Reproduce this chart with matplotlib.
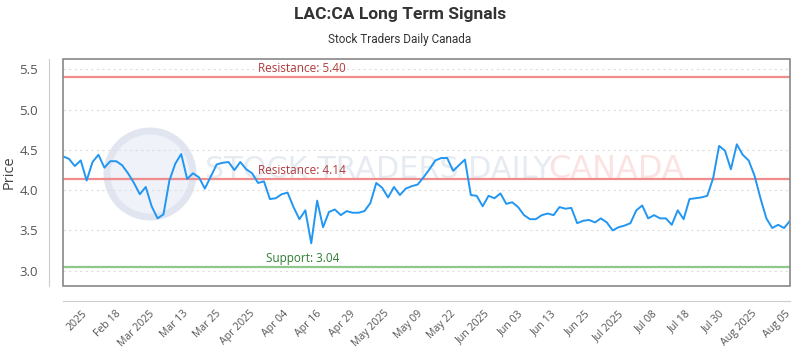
import numpy as np
import matplotlib
matplotlib.use("Agg")
import matplotlib.pyplot as plt
from matplotlib.patches import Rectangle, Ellipse

# closing prices, one per trading day
prices = [4.42, 4.39, 4.30, 4.37, 4.12, 4.35, 4.44, 4.28, 4.36, 4.36,
          4.31, 4.21, 4.09, 3.95, 4.04, 3.80, 3.65, 3.70, 4.12, 4.33,
          4.45, 4.14, 4.21, 4.16, 4.02, 4.17, 4.32, 4.34, 4.35, 4.25,
          4.35, 4.26, 4.21, 4.09, 4.11, 3.89, 3.90, 3.95, 3.97, 3.79,
          3.64, 3.75, 3.34, 3.87, 3.54, 3.73, 3.76, 3.69, 3.74, 3.72,
          3.72, 3.74, 3.84, 4.09, 4.03, 3.91, 4.04, 3.94, 4.02, 4.05,
          4.07, 4.16, 4.26, 4.37, 4.40, 4.40, 4.24, 4.31, 4.38, 3.94,
          3.93, 3.80, 3.93, 3.90, 3.96, 3.83, 3.85, 3.79, 3.69, 3.64,
          3.64, 3.69, 3.71, 3.69, 3.79, 3.77, 3.78, 3.59, 3.62, 3.63,
          3.60, 3.65, 3.60, 3.50, 3.54, 3.56, 3.59, 3.75, 3.81, 3.65,
          3.69, 3.65, 3.65, 3.57, 3.75, 3.64, 3.89, 3.90, 3.91, 3.93,
          4.15, 4.55, 4.49, 4.26, 4.57, 4.44, 4.37, 4.18, 3.90, 3.65,
          3.53, 3.57, 3.53, 3.62]

tick_labels = ["2025", "Feb 18", "Mar 2025", "Mar 13", "Mar 25", "Apr 2025",
               "Apr 04", "Apr 16", "Apr 29", "May 2025", "May 09", "May 22",
               "Jun 2025", "Jun 03", "Jun 13", "Jun 25", "Jul 2025", "Jul 08",
               "Jul 18", "Jul 30", "Aug 2025", "Aug 05"]

resistance_hi = 5.40
resistance_lo = 4.14
support = 3.04

x = np.arange(len(prices))
n = len(prices) - 1

fig = plt.figure(figsize=(8, 3.5), dpi=100)
ax = fig.add_axes([0.07875, 0.1829, 0.90875, 0.6486])

# spines first: moving them resets tick label styling
for s in ["top", "right"]:
    ax.spines[s].set_visible(False)
ax.spines["left"].set_position(("outward", 10))
ax.spines["bottom"].set_position(("outward", 11))
ax.spines["left"].set_color("#cccccc")
ax.spines["bottom"].set_color("#cccccc")

ax.set_xlim(0, n)
ax.set_ylim(2.81, 5.63)

# watermark, behind the (transparent) axes
fig.patches.append(Ellipse((150 / 800, 176 / 350), 86 / 800, 86 / 350,
                           transform=fig.transFigure, facecolor="#eff2f8",
                           edgecolor="#e0e5f0", lw=5, zorder=-2))
fig.text(205 / 800, 181 / 350, "STOCK TRADERS DAILY", fontsize=21.8, color="#e6ebf2",
         va="center", ha="left", zorder=-1)
fig.text(548 / 800, 181 / 350, "CANADA", fontsize=23, color="#fce3e3",
         va="center", ha="left", zorder=-1)
ax.patch.set_alpha(0)

ax.set_yticks([3.0, 3.5, 4.0, 4.5, 5.0, 5.5])
ax.yaxis.grid(True, linestyle=(0, (2, 3)), color="#dddddd", lw=0.8)
ax.set_axisbelow(True)

ax.axhline(resistance_hi, color="#f08c8c", lw=1.6, zorder=2)
ax.axhline(resistance_lo, color="#f08c8c", lw=1.6, zorder=2)
ax.axhline(support, color="#8cc88c", lw=1.6, zorder=2)

lx = (258 - 63) / 727 * n
ax.text(lx, resistance_hi + 0.03, "Resistance: %.2f" % resistance_hi, color="#b03a3a",
        fontsize=8.5, family="Open Sans", va="bottom")
ax.text(lx, resistance_lo + 0.03, "Resistance: %.2f" % resistance_lo, color="#b03a3a",
        fontsize=8.5, family="Open Sans", va="bottom")
ax.text((266 - 63) / 727 * n, support + 0.03, "Support: %.2f" % support,
        color="#2e7d32", fontsize=8.5, family="Open Sans", va="bottom")

ax.plot(x, prices, color="#2196f3", lw=1.4, zorder=3)

# ticks placed evenly, as the source chart does
ticks = np.linspace(3.2, 122.2, len(tick_labels))
ax.set_xticks(ticks)
ax.set_xticklabels(tick_labels, rotation=45, ha="right", rotation_mode="anchor",
                   fontsize=7.6, color="#555555", family="Open Sans")
for lab in ax.get_yticklabels():
    lab.set_family("Open Sans")
ax.tick_params(axis="y", length=0, labelsize=9.5, colors="#555555", pad=8)
ax.tick_params(axis="x", length=0, pad=5)

ax.add_patch(Rectangle((0, 0), 1, 1, transform=ax.transAxes, fill=False,
                       edgecolor="#888888", lw=1.2, zorder=4, clip_on=False))

ax.set_ylabel("Price", fontsize=10.5, color="#444444", family="Open Sans")
ax.yaxis.set_label_coords((17 - 63) / 727, 0.5)

fig.text(0.5, 1 - 15 / 350, "LAC:CA Long Term Signals", ha="center", va="center",
         fontsize=12.5, fontweight="bold", color="#333333",
         family=["Liberation Sans Narrow", "Roboto"])
fig.text(0.5, 1 - 40 / 350, "Stock Traders Daily Canada", ha="center", va="center",
         fontsize=8.5, color="#333333", family=["Liberation Sans Narrow", "Roboto"])

fig.savefig("out.png", dpi=100)
